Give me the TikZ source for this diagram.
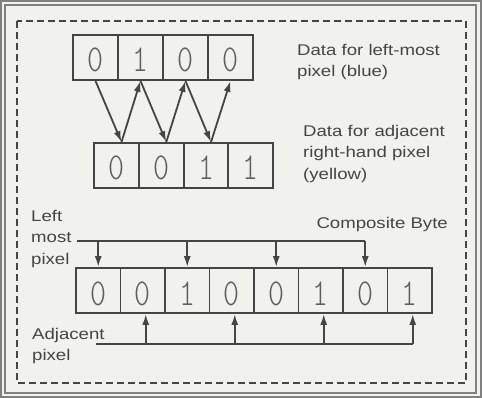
\documentclass[tikz,border=0pt]{standalone}
\usepackage{fontspec}
\usetikzlibrary{arrows.meta}
\newfontfamily\labelfont[FakeStretch=1.2]{Liberation Sans}
\newfontfamily\bitfont[FakeStretch=0.8]{Latin Modern Mono Light}
\definecolor{paper}{HTML}{F1F1ED}
\definecolor{ink}{HTML}{454545}
\definecolor{digit}{HTML}{5E5E5E}
\definecolor{rim}{HTML}{808080}
\tikzset{
	bit/.style={draw=ink,line width=1.8pt,minimum width=45pt,minimum height=45pt,
		inner sep=0pt,text height=29pt,text depth=0pt,text=digit,
		font=\bitfont\fontsize{38}{38}\selectfont},
	lbl/.style={inner sep=0pt,align=left,text=ink,font=\labelfont\fontsize{15.5}{21.5}\selectfont},
	wire/.style={draw=ink,line width=1.8pt},
	arr/.style={wire,-{Latex[length=11pt,width=7pt]}}
}

\begin{document}
\begin{tikzpicture}[x=1pt,y=-1pt]
			\fill[paper] (0,0) rectangle (482,398);
			\draw[rim,line width=1.3pt] (1,1) rectangle (481,397);
			\draw[rim,line width=1.3pt] (5,5) rectangle (476,393);
			\draw[ink,line width=1.6pt,dash pattern=on 7pt off 4pt] (17,21) rectangle (466,383);
			\foreach \d [count=\i] in {0,1,0,0}
				\node[bit] (t\i) at (95.5+45*\i-45,57.5) {\d};
			\foreach \d [count=\i] in {0,0,1,1}
				\node[bit] (b\i) at (116.5+44.75*\i-44.75,165.5) {\d};
			\foreach \d [count=\i] in {0,0,1,0,0,1,0,1}
				\node[bit,minimum width=44.5pt] (c\i) at (98.25+44.5*\i-44.5,290.5) {\d};
			\foreach \i [evaluate=\i as \j using int(\i+1)] in {1,2,3}{
				\draw[arr] (t\i.south) -- ([xshift=5pt]b\i.north);
				\draw[arr] ([xshift=5pt]b\i.north) -- (t\j.south);
			}
			\node[lbl,anchor=north west] (blue) at (297,44) {Data for left-most\\pixel (blue)};
			\node[lbl,anchor=north west] (yellow) at (303,125) {Data for adjacent\\right-hand pixel\\(yellow)};
			\node[lbl,anchor=north west] (left) at (31,210) {Left\\most\\pixel};
			\node[lbl,anchor=north east] (byte) at (448,217) {Composite Byte};
			\node[lbl,anchor=north west] (adj) at (32,328) {Adjacent\\pixel};
			\coordinate (lbus) at (77,241);
			\coordinate (abus) at (96,344);
			\draw[wire] (lbus) -- (c7.north |- lbus);
			\draw[wire] (abus) -- ([xshift=3pt]c8.south |- abus);
			\foreach \i in {1,3,5,7}
				\draw[arr] (c\i.north |- lbus) -- (c\i.north);
			\foreach \i in {2,4,6,8}
				\draw[arr] ([xshift=3pt]c\i.south |- abus) -- ([xshift=3pt]c\i.south);
		\end{tikzpicture}
\end{document}
